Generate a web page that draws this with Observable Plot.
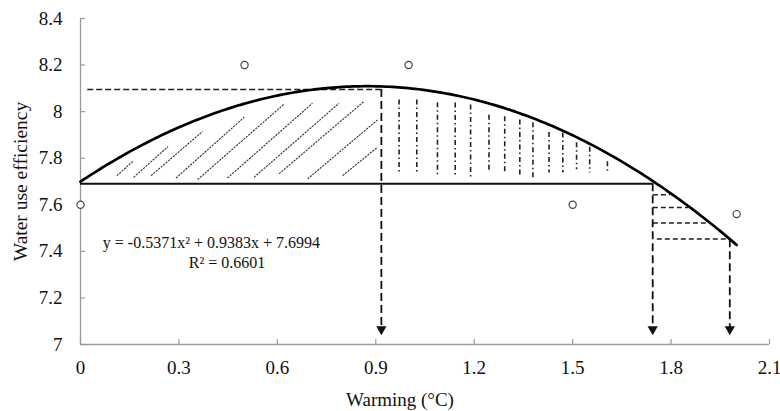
<!DOCTYPE html>
<html>
<head>
<meta charset="utf-8">
<script src="https://cdn.jsdelivr.net/npm/d3@7"></script>
<script src="https://cdn.jsdelivr.net/npm/@observablehq/plot@0.6"></script>
<style>
  html, body { margin: 0; padding: 0; background: #fff; }
</style>
</head>
<body>
<div id="chart"></div>
<script>
// ---- observed data ----
const warming = [0, 0.5, 1, 1.5, 2];
const wue = [7.6, 8.2, 8.2, 7.6, 7.56];

// ---- quadratic trendline (as printed on the chart) ----
const fitCoefficients = [-0.5371, 0.9383, 7.6994]; // a, b, c
const fitRange = [0, 2];
const equationLabel = "y = -0.5371x² + 0.9383x + 7.6994";
const r2Label = "R² = 0.6601";
const equationAnchor = [0.068, 7.437];
const r2Anchor = [0.33, 7.352];

// ---- axes ----
const xTicks = [0, 0.3, 0.6, 0.9, 1.2, 1.5, 1.8, 2.1];
const yTicks = [7, 7.2, 7.4, 7.6, 7.8, 8, 8.2, 8.4];
const xTitle = "Warming (°C)";
const yTitle = "Water use efficiency";

// ---- annotation guides ----
const baselineValue = 7.69;
const baselineEnd = [0, 1.745];
const peakValue = 8.095;
const peakLineStart = 0.022;
const arrowX = [0.917, 1.744, 1.979];
const arrowTop = [8.095, 7.69, 7.45];
const arrowTip = 7.04;
const arrowTail = 7.065;

// small dashed steps from 1.74 to the curve
const stepY = [7.643, 7.588, 7.522, 7.453];
const stepX1 = [1.746, 1.746, 1.746, 1.758];
const stepX2 = [1.798, 1.854, 1.910, 1.971];

// diagonal hatching (left of the optimum)
const diagX1 = [0.111, 0.162, 0.215, 0.291, 0.357, 0.448, 0.529, 0.605, 0.692, 0.799];
const diagY1 = [7.725, 7.718, 7.725, 7.715, 7.708, 7.715, 7.718, 7.733, 7.711, 7.725];
const diagX2 = [0.162, 0.267, 0.372, 0.499, 0.621, 0.707, 0.788, 0.864, 0.905, 0.905];
const diagY2 = [7.790, 7.850, 7.915, 7.976, 8.033, 8.036, 8.036, 8.044, 7.964, 7.847];

// vertical dash-dot hatching (right of the optimum)
const vertX = [0.971, 1.025, 1.088, 1.142, 1.189, 1.245, 1.293, 1.339, 1.379, 1.428, 1.470, 1.512, 1.552, 1.606];
const vertTop = [8.050, 8.050, 8.038, 8.037, 8.028, 7.985, 7.978, 7.964, 7.952, 7.910, 7.908, 7.866, 7.847, 7.785];
const vertBottom = [7.736, 7.737, 7.721, 7.721, 7.707, 7.737, 7.737, 7.721, 7.704, 7.737, 7.737, 7.750, 7.737, 7.737];

// ---- build tables ----
const points = warming.map((x, i) => ({x, y: wue[i]}));
const [a, b, c] = fitCoefficients;
const curve = d3.range(fitRange[0], fitRange[1] + 1e-9, 0.01).map(x => ({x, y: a * x * x + b * x + c}));
const steps = stepY.map((y, i) => ({y, x1: stepX1[i], x2: stepX2[i]}));
const diags = diagX1.map((x1, i) => ({x1, y1: diagY1[i], x2: diagX2[i], y2: diagY2[i]}));
const verts = vertX.map((x, i) => ({x, y1: vertTop[i], y2: vertBottom[i]}));
const arrows = arrowX.map((x, i) => ({x, top: arrowTop[i]}));
const fmt = d => String(+d.toFixed(1));

const serif = '"Liberation Serif", "Times New Roman", "DejaVu Serif", serif';
const axisGray = "#9a9a9a";

const chart = Plot.plot({
  width: 780,
  height: 411,
  marginLeft: 80,
  marginRight: 11,
  marginTop: 18,
  marginBottom: 67,
  style: {fontFamily: serif, fontSize: "19px", color: "#111", background: "#fff"},
  x: {domain: [0, 2.1]},
  y: {domain: [7, 8.4]},
  marks: [
    // axis lines
    Plot.ruleY([7], {stroke: axisGray, strokeWidth: 1.3}),
    Plot.ruleX([0], {stroke: axisGray, strokeWidth: 1.3}),
    // inward tick marks
    Plot.ruleX(xTicks, {y1: 7, y2: 7, insetTop: -5, stroke: axisGray, strokeWidth: 1.2}),
    Plot.ruleY(yTicks, {x1: 0, x2: 0, insetRight: -5, stroke: axisGray, strokeWidth: 1.2}),
    // tick labels
    Plot.axisX({ticks: xTicks, tickFormat: fmt, tickSize: 0, tickPadding: 16, label: null, fill: "#111", fontSize: 19}),
    Plot.axisY({ticks: yTicks, tickFormat: fmt, tickSize: 0, tickPadding: 18, label: null, fill: "#111", fontSize: 19}),
    // axis titles
    Plot.text([xTitle], {frameAnchor: "bottom", text: d => d, textAnchor: "middle", lineAnchor: "middle", dx: -25, dy: 55, fontSize: 19, fill: "#111"}),
    Plot.text([yTitle], {frameAnchor: "left", text: d => d, textAnchor: "middle", lineAnchor: "middle", rotate: -90, dx: -60, fontSize: 19.5, fill: "#111"}),

    // hatching
    Plot.link(diags, {x1: "x1", y1: "y1", x2: "x2", y2: "y2", stroke: "#333", strokeWidth: 1.1, strokeDasharray: "2.2,1"}),
    Plot.ruleX(verts, {x: "x", y1: "y1", y2: "y2", stroke: "#222", strokeWidth: 1.6, strokeDasharray: "5,3,1.5,3"}),

    // baseline and guides
    Plot.ruleY([baselineValue], {x1: baselineEnd[0], x2: baselineEnd[1], stroke: "#111", strokeWidth: 2}),
    Plot.ruleY([peakValue], {x1: peakLineStart, x2: arrowX[0], stroke: "#222", strokeWidth: 1.6, strokeDasharray: "6,3"}),
    Plot.ruleY(steps, {y: "y", x1: "x1", x2: "x2", stroke: "#222", strokeWidth: 1.5, strokeDasharray: "5,3"}),
    Plot.ruleX(arrows, {x: "x", y1: "top", y2: arrowTail, stroke: "#111", strokeWidth: 1.8, strokeDasharray: "8,4"}),
    Plot.dot(arrows, {x: "x", y: arrowTip, symbol: "triangle", rotate: 180, r: 3.8, fill: "#111", stroke: "none", dy: -5.9}),

    // fitted curve
    Plot.line(curve, {x: "x", y: "y", stroke: "#000", strokeWidth: 2.7, curve: "linear"}),

    // observations
    Plot.dot(points, {x: "x", y: "y", r: 3.6, stroke: "#444", strokeWidth: 1.2, fill: "#fff"}),

    // equation
    Plot.text([equationLabel], {x: equationAnchor[0], y: equationAnchor[1], text: d => d, textAnchor: "start", fontSize: 16, fill: "#111"}),
    Plot.text([r2Label], {x: r2Anchor[0], y: r2Anchor[1], text: d => d, textAnchor: "start", fontSize: 16, fill: "#111"})
  ]
});

document.getElementById("chart").appendChild(chart);
</script>
</body>
</html>
